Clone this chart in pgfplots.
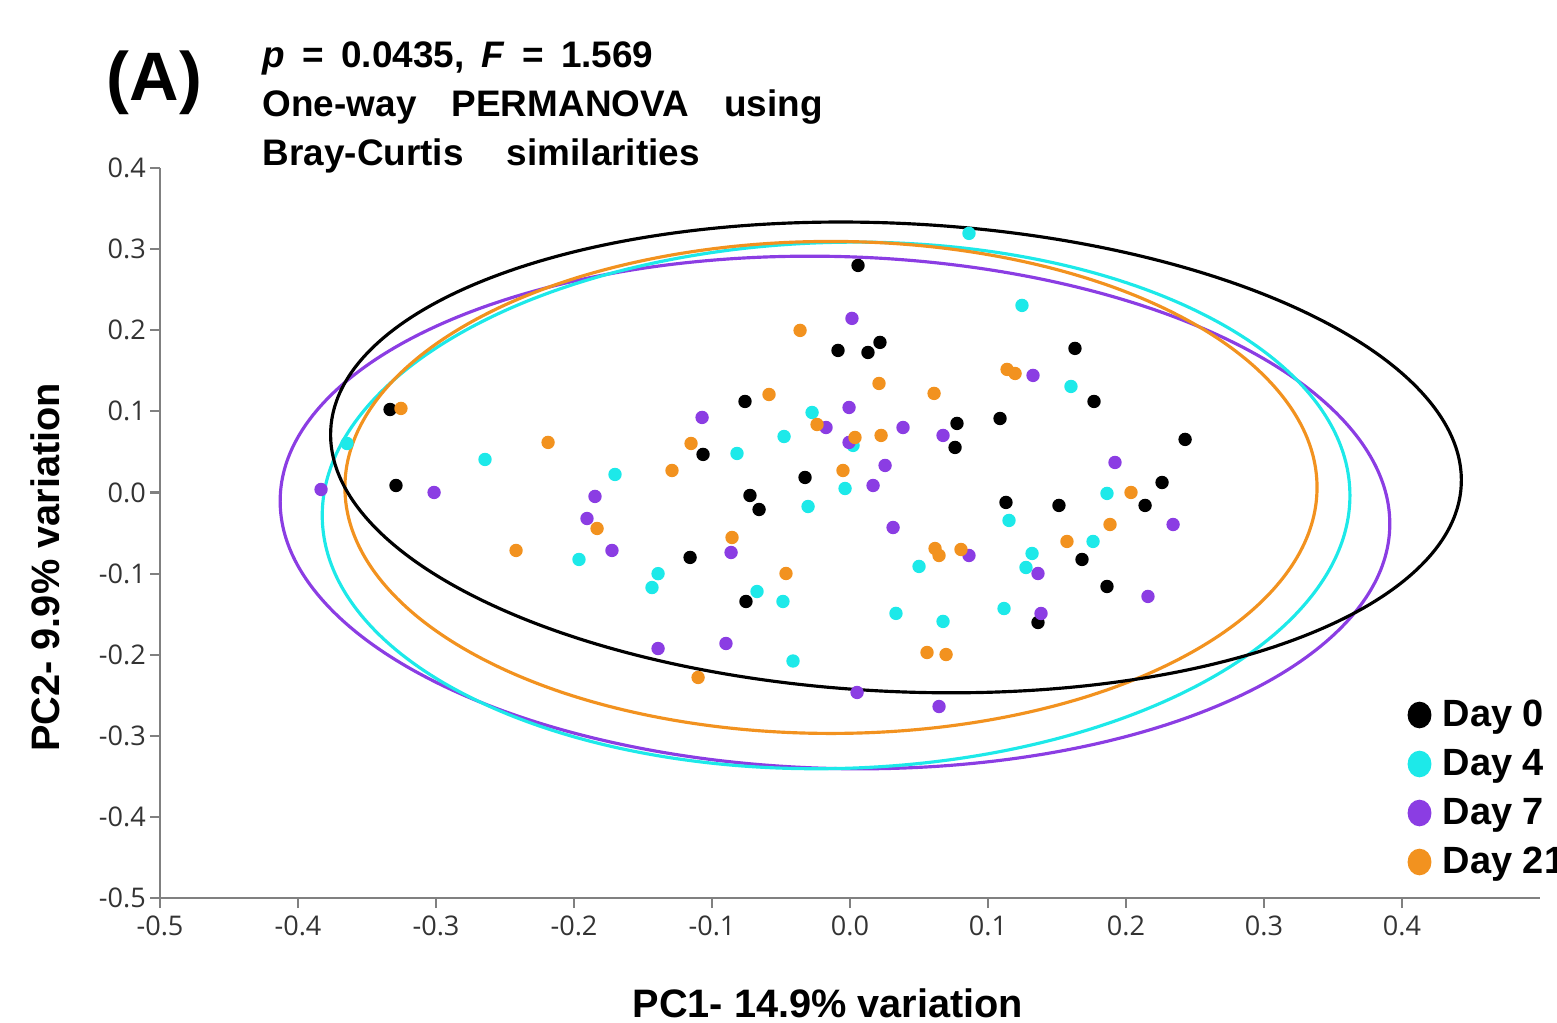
\documentclass[border=0pt]{standalone}
\usepackage{fontspec}
\setmainfont{Liberation Sans}
\newfontfamily\tickfont{Open Sans}
\usepackage{pgfplots}
\pgfplotsset{compat=1.18}
\definecolor{dzero}{HTML}{000000}
\definecolor{dfour}{HTML}{1DE9E9}
\definecolor{dseven}{HTML}{8B3DE3}
\definecolor{dtwone}{HTML}{F2921F}

\begin{document}
\begin{tikzpicture}
\begin{axis}[
  scale only axis, width=13.8cm, height=7.3cm,
  at={(1.60cm,1.24cm)}, anchor=south west,
  xmin=-0.5, xmax=0.5, ymin=-0.5, ymax=0.4,
  xtick={-0.5,-0.4,-0.3,-0.2,-0.1,0,0.1,0.2,0.3,0.4},
  ytick={-0.5,-0.4,-0.3,-0.2,-0.1,0,0.1,0.2,0.3,0.4},
  xticklabel={\pgfmathprintnumber[fixed,fixed zerofill,precision=1,assume math mode=true]{\tick}},
  yticklabel={\pgfmathprintnumber[fixed,fixed zerofill,precision=1,assume math mode=true]{\tick}},
  ticklabel style={font=\tickfont\fontsize{7.7}{9}\selectfont, text=black!80},
  yticklabel style={inner xsep=1pt},
  xticklabel style={inner ysep=2pt},
  axis lines=left, axis line style={-, draw=black!50, line width=0.7pt},
  tick style={draw=black!50, line width=0.6pt},
  tick align=outside, major tick length=0.1cm,
  xlabel={PC1- 14.9\% variation}, ylabel={PC2- 9.9\% variation},
  label style={font=\bfseries\fontsize{11.3}{13}\selectfont},
  xlabel style={at={(axis description cs:0.484,-0.164)}, anchor=base},
  ylabel style={at={(axis description cs:-0.073,0.453)}, anchor=base},
  legend style={draw=none, fill=none, at={(0.904,0.277)}, anchor=north west,
    inner sep=0pt, font=\bfseries\fontsize{10.8}{12}\selectfont,
    nodes={inner xsep=0.12cm, inner ysep=0pt, text height=0.30cm, text depth=0.19cm},
    row sep=0pt},
  legend cell align=left,
  legend image code/.code={\draw[mark size=3.2pt, every mark/.append style={yscale=1.12}] plot coordinates {(0.1cm,0.06cm)};},
]
% confidence ellipses
\addplot[dseven, line width=0.9pt, smooth cycle, tension=0.62, forget plot] coordinates {
(0.3911,-0.0426) (0.3586,-0.1619) (0.2699,-0.2605) (0.1384,-0.3231) (-0.0158,-0.3402) (-0.1692,-0.3093) (-0.2987,-0.2351) (-0.3842,-0.1289) (-0.4129,-0.0068) (-0.3804,0.1125) (-0.2917,0.2111) (-0.1602,0.2737) (-0.0060,0.2908) (0.1474,0.2599) (0.2769,0.1857) (0.3624,0.0795)};
\addplot[dfour, line width=0.9pt, smooth cycle, tension=0.62, forget plot] coordinates {
(0.3622,0.0006) (0.3358,-0.1248) (0.2567,-0.2335) (0.1370,-0.3091) (-0.0051,-0.3402) (-0.1480,-0.3219) (-0.2699,-0.2569) (-0.3522,-0.1554) (-0.3824,-0.0326) (-0.3560,0.0928) (-0.2769,0.2015) (-0.1572,0.2771) (-0.0151,0.3082) (0.1278,0.2899) (0.2497,0.2249) (0.3320,0.1234)};
\addplot[dtwone, line width=0.9pt, smooth cycle, tension=0.62, forget plot] coordinates {
(0.3384,0.0062) (0.3116,-0.1099) (0.2352,-0.2083) (0.1210,-0.2740) (-0.0138,-0.2971) (-0.1486,-0.2740) (-0.2628,-0.2083) (-0.3392,-0.1099) (-0.3660,0.0062) (-0.3392,0.1223) (-0.2628,0.2207) (-0.1486,0.2864) (-0.0138,0.3095) (0.1210,0.2864) (0.2352,0.2207) (0.3116,0.1223)};
\addplot[dzero, line width=0.9pt, smooth cycle, tension=0.62, forget plot] coordinates {
(0.4429,0.0092) (0.4085,-0.0985) (0.3170,-0.1846) (0.1824,-0.2361) (0.0250,-0.2450) (-0.1312,-0.2101) (-0.2622,-0.1366) (-0.3483,-0.0357) (-0.3763,0.0772) (-0.3419,0.1849) (-0.2504,0.2710) (-0.1158,0.3225) (0.0416,0.3314) (0.1978,0.2965) (0.3288,0.2230) (0.4149,0.1221)};
% samples
\addplot[only marks, mark=*, mark size=1.7pt, draw=none, fill=dzero, mark options={draw=dzero, fill=dzero}] coordinates {
(-0.3333,0.1023) (-0.3290,0.0086) (0.0058,0.2799) (-0.0087,0.1751) (0.0130,0.1726) (0.0217,0.1850) (-0.0761,0.1122) (-0.1065,0.0469) (-0.0725,-0.0037) (-0.0659,-0.0210) (-0.0326,0.0185) (-0.1159,-0.0801) (-0.0754,-0.1344) (0.0775,0.0851) (0.0761,0.0555) (0.1087,0.0912) (0.1630,0.1776) (0.1768,0.1122) (0.2428,0.0654) (0.1130,-0.0123) (0.1514,-0.0160) (0.1681,-0.0826) (0.2261,0.0123) (0.2138,-0.0160) (0.1862,-0.1159) (0.1362,-0.1603)};
\addlegendentry{Day 0}
\addplot[only marks, mark=*, mark size=1.7pt, draw=none, fill=dfour, mark options={draw=dfour, fill=dfour}] coordinates {
(-0.3645,0.0604) (-0.2645,0.0407) (-0.1703,0.0222) (0.0862,0.3194) (0.1246,0.2306) (0.1601,0.1307) (-0.0275,0.0986) (-0.0478,0.0690) (-0.0819,0.0481) (0.0022,0.0580) (-0.0036,0.0049) (-0.0304,-0.0173) (0.1152,-0.0345) (0.1761,-0.0604) (0.1862,-0.0012) (0.1319,-0.0752) (0.1275,-0.0925) (0.1116,-0.1431) (-0.1964,-0.0826) (-0.1391,-0.1001) (-0.1435,-0.1172) (-0.0674,-0.1221) (-0.0486,-0.1344) (0.0333,-0.1491) (0.0674,-0.1590) (-0.0413,-0.2078) (0.0500,-0.0912)};
\addlegendentry{Day 4}
\addplot[only marks, mark=*, mark size=1.7pt, draw=none, fill=dseven, mark options={draw=dseven, fill=dseven}] coordinates {
(-0.3833,0.0037) (-0.3014,0.0000) (-0.1848,-0.0049) (-0.1906,-0.0321) (-0.1725,-0.0715) (0.0014,0.2146) (0.1326,0.1443) (-0.1072,0.0925) (-0.0007,0.1048) (-0.0174,0.0801) (0.0384,0.0801) (-0.0007,0.0617) (0.0674,0.0703) (0.0254,0.0333) (0.0167,0.0086) (0.0312,-0.0432) (0.1920,0.0370) (0.2341,-0.0395) (0.1362,-0.0999) (0.1384,-0.1492) (0.2159,-0.1282) (0.0862,-0.0777) (-0.0862,-0.0740) (-0.1391,-0.1924) (-0.0899,-0.1862) (0.0051,-0.2466) (0.0645,-0.2639)};
\addlegendentry{Day 7}
\addplot[only marks, mark=*, mark size=1.7pt, draw=none, fill=dtwone, mark options={draw=dtwone, fill=dtwone}] coordinates {
(-0.3254,0.1036) (-0.2188,0.0617) (-0.1290,0.0271) (-0.1833,-0.0444) (-0.2420,-0.0715) (-0.0362,0.1998) (-0.0587,0.1208) (0.0210,0.1344) (0.0609,0.1221) (0.1138,0.1517) (0.1196,0.1467) (-0.1152,0.0604) (-0.0239,0.0838) (0.0036,0.0678) (0.0225,0.0703) (-0.0051,0.0271) (-0.0855,-0.0555) (-0.0464,-0.0999) (0.0616,-0.0691) (0.0645,-0.0777) (0.0804,-0.0703) (0.1572,-0.0604) (0.2036,0.0000) (0.1884,-0.0395) (0.0558,-0.1973) (0.0696,-0.1998) (-0.1101,-0.2281)};
\addlegendentry{Day 21}
\end{axis}
\node[anchor=base west, inner sep=0pt, font=\bfseries\fontsize{19.5}{22}\selectfont] at (1.06,9.21) {(A)};
\node[anchor=base west, inner sep=0pt, font=\bfseries\fontsize{10.5}{12}\selectfont] at (2.62,9.54) {\textit{p}\hspace{0.07cm} =\hspace{0.07cm} 0.0435,\hspace{0.07cm} \textit{F}\hspace{0.07cm} =\hspace{0.07cm} 1.569};
\node[anchor=base west, inner sep=0pt, font=\bfseries\fontsize{10.5}{12}\selectfont] at (2.62,9.05) {One-way\hspace{0.25cm} PERMANOVA\hspace{0.25cm} using};
\node[anchor=base west, inner sep=0pt, font=\bfseries\fontsize{10.5}{12}\selectfont] at (2.62,8.56) {Bray-Curtis\hspace{0.33cm} similarities};
\pgfresetboundingbox
\path[use as bounding box] (0,0) rectangle (15.57,10.22);
\end{tikzpicture}
\end{document}
